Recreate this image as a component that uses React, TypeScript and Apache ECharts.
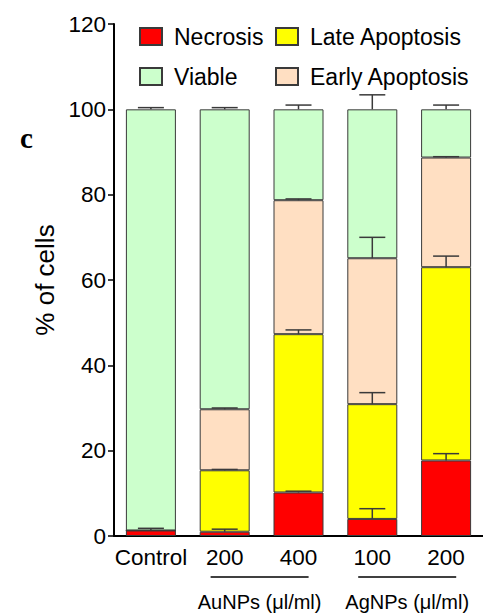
import React, { useEffect, useRef } from "react";
import * as echarts from "echarts";

const categories = ["Control", "200", "400", "100", "200"];
const necrosis = [1.3, 1.0, 10.2, 4.0, 17.7];
const lateApoptosis = [0, 14.4, 37.1, 26.9, 45.3];
const earlyApoptosis = [0, 14.3, 31.4, 34.2, 25.7];
const viable = [98.7, 70.3, 21.3, 34.9, 11.3];
const necrosisErr = [0.5, 0.6, 0.3, 2.4, 1.6];
const lateErr = [0, 0.2, 1.0, 2.7, 2.6];
const earlyErr = [0, 0.3, 0.3, 4.9, 0.2];
const viableErr = [0.4, 0.4, 1.0, 3.4, 1.0];
const groups = [
  { label: "AuNPs (\u03bcl/ml)", from: 1, to: 2 },
  { label: "AgNPs (\u03bcl/ml)", from: 3, to: 4 },
];

const FONT = "'Liberation Sans', Arial, sans-serif";

export default function App() {
  const ref = useRef<HTMLDivElement>(null);
  useEffect(() => {
    if (!ref.current) return;
    const chart = echarts.init(ref.current, undefined, { renderer: "svg" });
    const layers = [necrosis, lateApoptosis, earlyApoptosis, viable];
    const errs = [necrosisErr, lateErr, earlyErr, viableErr];
    const errData: number[][] = [];
    categories.forEach((_, i) => {
      let cum = 0;
      layers.forEach((layer, k) => {
        cum += layer[i];
        if (errs[k][i] > 0) errData.push([i, cum, cum + errs[k][i]]);
      });
    });
    const border = { borderColor: "#3a3a3a", borderWidth: 1 };
    const mkBar = (name: string, data: number[], color: string) => ({
      name,
      type: "bar",
      stack: "s",
      data,
      barWidth: 50,
      itemStyle: { color, ...border },
    });
    const legendCommon = {
      orient: "vertical",
      top: 20,
      icon: "rect",
      itemWidth: 22,
      itemHeight: 17,
      itemGap: 17,
      textStyle: { fontFamily: FONT, fontSize: 23, color: "#000", padding: [0, 0, 0, 7] },
    };
    chart.setOption({
      animation: false,
      grid: { left: 114, top: 24, bottom: 77, width: 380, containLabel: false },
      legend: [
        { ...legendCommon, data: ["Necrosis", "Viable"], left: 134 },
        { ...legendCommon, data: ["Late Apoptosis", "Early Apoptosis"], left: 270 },
      ],
      xAxis: {
        type: "category",
        data: categories,
        axisLine: { lineStyle: { color: "#000", width: 2 } },
        axisTick: { alignWithLabel: true, length: 7, lineStyle: { color: "#000", width: 1.5 } },
        axisLabel: { fontFamily: FONT, fontSize: 22.5, color: "#000", margin: 10, interval: 0 },
      },
      yAxis: {
        type: "value",
        min: 0,
        max: 120,
        interval: 20,
        name: "% of cells",
        nameLocation: "middle",
        nameGap: 50,
        nameTextStyle: { fontFamily: FONT, fontSize: 26, color: "#000" },
        axisLine: { show: true, lineStyle: { color: "#000", width: 2 } },
        axisTick: { show: true, length: 6, lineStyle: { color: "#000", width: 1.5 } },
        axisLabel: { fontFamily: FONT, fontSize: 22.5, color: "#000", margin: 8 },
        splitLine: { show: false },
      },
      series: [
        mkBar("Necrosis", necrosis, "#ff0000"),
        mkBar("Late Apoptosis", lateApoptosis, "#ffff00"),
        mkBar("Early Apoptosis", earlyApoptosis, "#ffdfc2"),
        mkBar("Viable", viable, "#ccffcc"),
        {
          type: "custom",
          z: 10,
          data: errData,
          renderItem: (params: any, api: any) => {
            const i = api.value(0);
            const b = api.coord([i, api.value(1)]);
            const t = api.coord([i, api.value(2)]);
            const style = { stroke: "#3a3a3a", lineWidth: 1.5 };
            return {
              type: "group",
              children: [
                { type: "line", shape: { x1: b[0], y1: b[1], x2: t[0], y2: t[1] }, style },
                { type: "line", shape: { x1: t[0] - 13, y1: t[1], x2: t[0] + 13, y2: t[1] }, style },
              ],
            };
          },
        },
      ],
    });
    const gfx: any[] = [
      {
        type: "text",
        left: 20,
        top: 123,
        style: { text: "c", fontFamily: "'Liberation Serif', serif", fontWeight: "bold", fontSize: 29, fill: "#000" },
      },
    ];
    groups.forEach((g) => {
      const x1 = chart.convertToPixel({ xAxisIndex: 0 }, g.from) as number;
      const x2 = chart.convertToPixel({ xAxisIndex: 0 }, g.to) as number;
      const mid = (x1 + x2) / 2 - 2;
      gfx.push({
        type: "line",
        shape: { x1: mid - 49, y1: 577, x2: mid + 49, y2: 577 },
        style: { stroke: "#000", lineWidth: 1.5 },
      });
      gfx.push({
        type: "text",
        x: mid,
        y: 602,
        style: { text: g.label, fontFamily: FONT, fontSize: 20, fill: "#000", align: "center", verticalAlign: "middle" },
      });
    });
    chart.setOption({ graphic: gfx });
    return () => chart.dispose();
  }, []);
  return <div ref={ref} style={{ width: 483, height: 613, position: "absolute", left: 0, top: 0 }} />;
}
